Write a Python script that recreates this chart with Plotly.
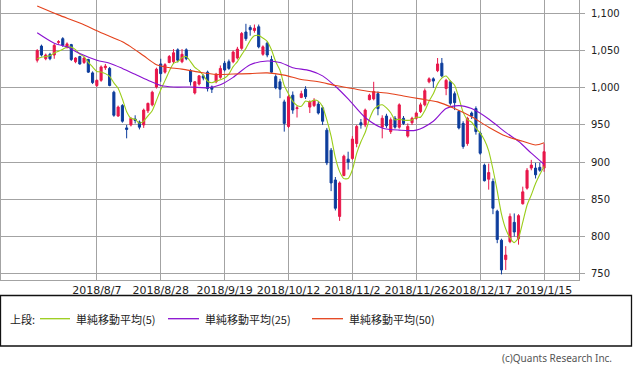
import plotly.graph_objects as go
import pandas as pd
import numpy as np

# ---------------- data ----------------
holidays = ["2018-09-17", "2018-09-24", "2018-10-08", "2018-11-23", "2018-12-24",
            "2018-12-31", "2019-01-01", "2019-01-02", "2019-01-03", "2019-01-14"]
days = pd.bdate_range("2018-07-18", "2019-01-15", freq="C", holidays=holidays)
dates = [f"{d.year}/{d.month}/{d.day}" for d in days]

opens = [1037, 1056, 1039, 1045, 1044, 1061, 1066, 1054, 1058, 1035,
         1042, 1034, 1038, 1020, 1003, 1010, 1027, 1026, 994, 962,
         976, 946, 950, 958, 954, 950, 969, 977, 1001, 1032,
         1021, 1034, 1035, 1051, 1035, 1051, 1023, 993, 1005, 1016,
         1021, 1001, 1008, 1014, 1033, 1035, 1035, 1040, 1053, 1075,
         1081, 1077, 1082, 1045, 1060, 1038, 1015, 1008, 981, 948,
         990, 972, 987, 998, 974, 976, 978, 973, 943, 916,
         876, 827, 882, 904, 905, 925, 953, 950, 984, 985,
         992, 947, 962, 941, 959, 947, 959, 935, 953, 959,
         968, 977, 1008, 1012, 1023, 1033, 999, 1008, 992, 968,
         952, 925, 966, 972, 939, 896, 877, 874, 834, 795,
         769, 793, 819, 797, 844, 865, 892, 892, 893, 892]
highs = [1052, 1058, 1046, 1047, 1059, 1064, 1068, 1061, 1059, 1041,
         1043, 1041, 1039, 1022, 1011, 1030, 1032, 1028, 996, 976,
         978, 950, 960, 963, 956, 972, 980, 996, 1027, 1039,
         1033, 1044, 1052, 1053, 1052, 1053, 1025, 1009, 1017, 1018,
         1023, 1003, 1020, 1030, 1036, 1038, 1050, 1055, 1075, 1086,
         1084, 1085, 1085, 1057, 1062, 1043, 1018, 1012, 984, 990,
         995, 976, 996, 1002, 983, 986, 982, 976, 946, 919,
         880, 874, 910, 914, 935, 950, 958, 972, 992, 1008,
         995, 963, 965, 960, 962, 979, 962, 952, 961, 968,
         980, 999, 1014, 1014, 1040, 1040, 1012, 1010, 995, 970,
         955, 961, 968, 975, 941, 898, 898, 878, 836, 797,
         787, 831, 831, 830, 867, 892, 903, 899, 899, 925]
lows = [1034, 1042, 1037, 1037, 1039, 1059, 1055, 1053, 1036, 1033,
        1031, 1032, 1020, 1005, 1001, 1008, 1024, 1002, 961, 961,
        953, 932, 948, 952, 944, 946, 966, 975, 999, 1008,
        1019, 1033, 1032, 1034, 1033, 1037, 1003, 991, 1003, 1010,
        995, 993, 1006, 1012, 1022, 1024, 1033, 1038, 1051, 1063,
        1070, 1074, 1053, 1043, 1041, 1020, 998, 986, 941, 946,
        965, 960, 986, 985, 966, 974, 964, 950, 896, 861,
        835, 821, 881, 890, 903, 920, 945, 947, 983, 983,
        963, 932, 946, 938, 945, 945, 950, 933, 950, 957,
        966, 975, 1006, 1000, 1021, 1014, 990, 976, 970, 944,
        918, 922, 958, 937, 910, 874, 863, 830, 791, 749,
        755, 791, 800, 789, 843, 863, 889, 878, 887, 887]
closes = [1050, 1044, 1044, 1039, 1057, 1062, 1057, 1059, 1038, 1040,
          1032, 1040, 1021, 1007, 1010, 1028, 1029, 1003, 963, 974,
          955, 944, 959, 956, 947, 970, 979, 994, 1025, 1019,
          1031, 1042, 1047, 1037, 1045, 1039, 1008, 1008, 1016, 1013,
          999, 998, 1018, 1026, 1024, 1026, 1048, 1052, 1073, 1066,
          1078, 1080, 1055, 1055, 1044, 1021, 1000, 998, 952, 988,
          970, 973, 992, 988, 981, 983, 966, 955, 899, 872,
          838, 872, 908, 900, 931, 948, 950, 970, 990, 995,
          972, 959, 949, 957, 947, 977, 952, 948, 959, 966,
          977, 996, 1012, 1009, 1032, 1016, 1010, 979, 980, 946,
          921, 959, 962, 941, 912, 875, 886, 838, 796, 755,
          775, 827, 806, 828, 860, 889, 896, 883, 889, 914]

# 5-day simple moving average: first four values
ma5_head = [1039, 1041, 1042, 1043]
ma5 = ma5_head + list(pd.Series(closes).rolling(5).mean().iloc[4:])

# 25-day and 50-day averages (bar index -> value)
ma25_idx = [0, 4, 7, 10, 14, 17, 20, 23, 26, 29, 32, 36, 40, 43, 46, 50, 54, 57,
            60, 64, 67, 70, 73, 77, 81, 85, 89, 93, 96, 99, 102, 106, 110, 113, 116, 119]
ma25_val = [1074, 1060, 1055, 1046, 1037, 1033, 1026, 1018, 1010, 1003, 1001, 1001,
            1000, 1004, 1014, 1031, 1036, 1034, 1027, 1023, 1016, 1002, 985, 960,
            946, 943, 943, 955, 972, 976, 972, 958, 940, 928, 912, 897]
ma50_idx = [0, 5, 10, 15, 20, 22, 25, 28, 30, 34, 38, 42, 46, 50, 54, 58, 62, 66,
            70, 74, 78, 82, 86, 90, 94, 98, 102, 106, 110, 114, 117, 119]
ma50_val = [1110, 1098, 1087, 1074, 1062, 1055, 1043, 1031, 1028, 1025, 1021, 1018,
            1018.5, 1019, 1020, 1017, 1011, 1008, 1003, 999, 995, 993, 989, 985,
            981, 972, 961, 947, 935, 928, 923, 926]

y_ticks = [750, 800, 850, 900, 950, 1000, 1050, 1100]
x_tick_idx = list(range(14, len(dates), 15))

# ---------------- styling ----------------
UP = "#e8174a"
DN = "#0c3c9c"
C5 = "#9acd1a"
C25 = "#8a10d0"
C50 = "#e4421c"
GRID = "#a3a3a3"

fig = go.Figure()
fig.add_trace(go.Candlestick(
    x=dates, open=opens, high=highs, low=lows, close=closes,
    increasing=dict(line=dict(color=UP, width=1), fillcolor=UP),
    decreasing=dict(line=dict(color=DN, width=1), fillcolor=DN),
    showlegend=False, hoverinfo="skip"))
fig.add_trace(go.Scatter(x=dates, y=ma5, mode="lines",
                         line=dict(color=C5, width=1.1, shape="spline", smoothing=0.6),
                         showlegend=False, hoverinfo="skip"))
fig.add_trace(go.Scatter(x=[dates[i] for i in ma25_idx], y=ma25_val, mode="lines",
                         line=dict(color=C25, width=1.1, shape="spline", smoothing=0.8),
                         showlegend=False, hoverinfo="skip"))
fig.add_trace(go.Scatter(x=[dates[i] for i in ma50_idx], y=ma50_val, mode="lines",
                         line=dict(color=C50, width=1.1, shape="spline", smoothing=0.8),
                         showlegend=False, hoverinfo="skip"))

W, H = 633, 370
L, R, T, B = 1, 54, 0, 90
pw, ph = W - L - R, H - T - B


def px(x):
    return (x - L) / pw


def py(y):
    return (T + ph - y) / ph


fig.update_layout(
    width=W, height=H,
    margin=dict(l=L, r=R, t=T, b=B, pad=0, autoexpand=False),
    paper_bgcolor="white", plot_bgcolor="white",
    xaxis=dict(type="category", categoryorder="array", categoryarray=dates,
               range=[-8.5, 127.2], tickvals=[dates[i] for i in x_tick_idx],
               tickangle=0, automargin=False,
               showgrid=True, gridcolor=GRID, gridwidth=1, ticks="",
               tickfont=dict(family="DejaVu Sans", size=11, color="#222"),
               showline=True, linecolor=GRID, linewidth=1, mirror=True,
               rangeslider=dict(visible=False), zeroline=False, fixedrange=True),
    yaxis=dict(side="right", range=[741.5, 1118], tickvals=y_ticks, tickformat=",",
               automargin=False,
               ticks="outside", ticklen=5, tickcolor=GRID, tickwidth=1,
               showgrid=True, gridcolor=GRID, gridwidth=1,
               tickfont=dict(family="DejaVu Sans", size=10, color="#222"),
               showline=True, linecolor=GRID, linewidth=1, mirror=True,
               zeroline=False, ticklabelstandoff=4),
)

shapes = [dict(type="rect", xref="paper", yref="paper",
               x0=px(0.5), x1=px(631.5), y0=py(295.5), y1=py(346),
               line=dict(color="#111", width=1.3))]
ly = py(318.7)
legend_items = [(40, 70, 74, C5, "単純移動平均(5)"),
                (168, 199, 203, C25, "単純移動平均(25)"),
                (312, 343, 347, C50, "単純移動平均(50)")]
annotations = [dict(text="上段:", x=px(8), y=ly, xref="paper", yref="paper",
                    xanchor="left", yanchor="middle", showarrow=False,
                    font=dict(family="Noto Sans CJK JP", size=11, color="#222"))]
for x0, x1, tx, col, label in legend_items:
    shapes.append(dict(type="line", xref="paper", yref="paper",
                       x0=px(x0), x1=px(x1), y0=ly, y1=ly,
                       line=dict(color=col, width=1.3)))
    annotations.append(dict(text=label, x=px(tx), y=ly, xref="paper", yref="paper",
                            xanchor="left", yanchor="middle", showarrow=False,
                            font=dict(family="Noto Sans CJK JP", size=11, color="#222")))
annotations.append(dict(text="(c)Quants Research Inc.", x=px(614), y=py(357.5),
                        xref="paper", yref="paper", xanchor="right", yanchor="middle",
                        showarrow=False,
                        font=dict(family="Noto Sans", size=10, color="#555")))
fig.update_layout(shapes=shapes, annotations=annotations)

fig.write_html("out.html", config={"displayModeBar": False, "staticPlot": True},
               post_script="document.body.style.margin='0';document.body.style.overflow='hidden';")
